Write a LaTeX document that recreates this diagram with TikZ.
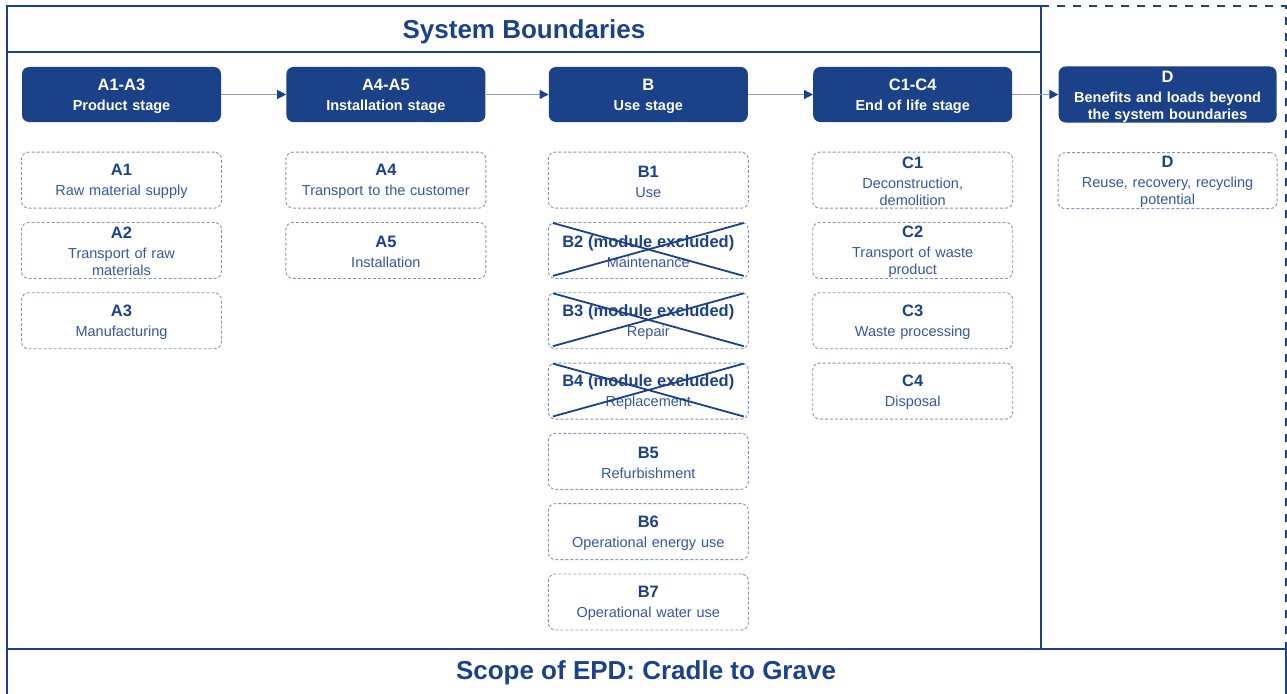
\documentclass[tikz,border=0pt]{standalone}
\usepackage{fontspec}
\setmainfont{Liberation Sans}
\usepackage{xcolor}
\usetikzlibrary{arrows.meta, positioning, calc}
\definecolor{epdblue}{HTML}{1B4189}
\definecolor{epdtext}{HTML}{3556A2}
\definecolor{epddash}{HTML}{8194C2}
\definecolor{epdarrow}{HTML}{8FA2CE}
\tikzstyle{stage} = [rectangle, rounded corners=7pt, minimum width=199pt, minimum height=55pt, text width=190pt, align=center, fill=epdblue, text=white, inner sep=0pt, font=\fontsize{14.5}{17}\selectfont\bfseries]
\tikzstyle{module} = [rectangle, rounded corners=7pt, minimum width=200pt, minimum height=56pt, text width=192pt, align=center, draw=epddash, dash pattern=on 3pt off 2pt, line width=0.9pt, text=epdtext, inner sep=0pt, font=\fontsize{14.5}{17}\selectfont]
\tikzstyle{frame} = [draw=epdblue, line width=2pt]
\tikzstyle{arrow} = [draw=epdarrow, line width=1.2pt, -{Triangle[length=9pt,width=9pt,color=epdblue]}]
\tikzstyle{cross} = [draw=epdblue, line width=1.8pt]
\newcommand{\modtext}[2]{{\fontsize{16.5}{17}\selectfont\bfseries\color{epdblue}\rule{0pt}{14pt}#1}\\[3pt]#2}
\newcommand{\stagetext}[2]{{\fontsize{16.5}{17}\selectfont\rule{0pt}{16pt}#1}\\[3pt]#2}

\begin{document}
\begin{tikzpicture}[x=1pt, y=-1pt]
\useasboundingbox (0,0) rectangle (1287,693);

% frame
\draw [frame] (6.5,6) rectangle (1041,52);
\draw [frame] (6.5,52) -- (6.5,700);
\draw [frame] (1041,52) -- (1041,649);
\draw [frame] (6.5,649) -- (1285.5,649) -- (1285.5,700);
\draw [frame, dash pattern=on 8pt off 8pt] (1041,6) -- (1285.5,6) -- (1285.5,649);
\node (sysb) at (524,31.5) {\fontsize{26}{30}\selectfont\bfseries\color{epdblue}System Boundaries};
\node (scope) at (646,672.5) {\fontsize{26}{30}\selectfont\bfseries\color{epdblue}Scope of EPD: Cradle to Grave};

% stages
\node (sa) [stage] at (121.5,94.5) {\stagetext{A1-A3}{Product stage}};
\node (sai) [stage, right=65pt of sa] {\stagetext{A4-A5}{Installation stage}};
\node (sb) [stage, right=63pt of sai] {\stagetext{B}{Use stage}};
\node (sc) [stage, right=65pt of sb] {\stagetext{C1-C4}{End of life stage}};
\node (sd) [stage, right=46pt of sc, minimum width=218pt, text width=210pt] {\stagetext{D}{Benefits and loads beyond\\the system boundaries}};

\draw [arrow] (sa) -- (sai);
\draw [arrow] (sai) -- (sb);
\draw [arrow] (sb) -- (sc);
\draw [arrow] (sc) -- (sd);

% modules A
\node (a1) [module, below=29.5pt of sa] {\modtext{A1}{Raw material supply}};
\node (a2) [module, below=13.4pt of a1] {\modtext{A2}{Transport of raw\\materials}};
\node (a3) [module, below=13.4pt of a2] {\modtext{A3}{Manufacturing}};
\node (a4) [module, below=29.5pt of sai] {\modtext{A4}{Transport to the customer}};
\node (a5) [module, below=13.4pt of a4] {\modtext{A5}{Installation}};

% modules B
\node (b1) [module, below=29.5pt of sb] {\modtext{B1}{Use}};
\node (b2) [module, below=13.4pt of b1] {\modtext{B2 (module excluded)}{Maintenance}};
\node (b3) [module, below=13.4pt of b2] {\modtext{B3 (module excluded)}{Repair}};
\node (b4) [module, below=13.4pt of b3] {\modtext{B4 (module excluded)}{Replacement}};
\node (b5) [module, below=13.4pt of b4] {\modtext{B5}{Refurbishment}};
\node (b6) [module, below=13.4pt of b5] {\modtext{B6}{Operational energy use}};
\node (b7) [module, below=13.4pt of b6] {\modtext{B7}{Operational water use}};

% excluded modules
\foreach \m in {b2,b3,b4} {
  \draw [cross] ([xshift=5pt,yshift=-1pt]\m.north west) -- ([xshift=-5pt,yshift=3pt]\m.south east);
  \draw [cross] ([xshift=5pt,yshift=3pt]\m.south west) -- ([xshift=-5pt,yshift=-1pt]\m.north east);
}

% modules C and D
\node (c1) [module, below=29.5pt of sc] {\modtext{C1}{Deconstruction,\\demolition}};
\node (c2) [module, below=13.4pt of c1] {\modtext{C2}{Transport of waste\\product}};
\node (c3) [module, below=13.4pt of c2] {\modtext{C3}{Waste processing}};
\node (c4) [module, below=13.4pt of c3] {\modtext{C4}{Disposal}};
\node (d) [module, below=29.5pt of sd, minimum width=219pt, text width=211pt] {\modtext{D}{Reuse, recovery, recycling\\potential}};

\end{tikzpicture}
\end{document}
